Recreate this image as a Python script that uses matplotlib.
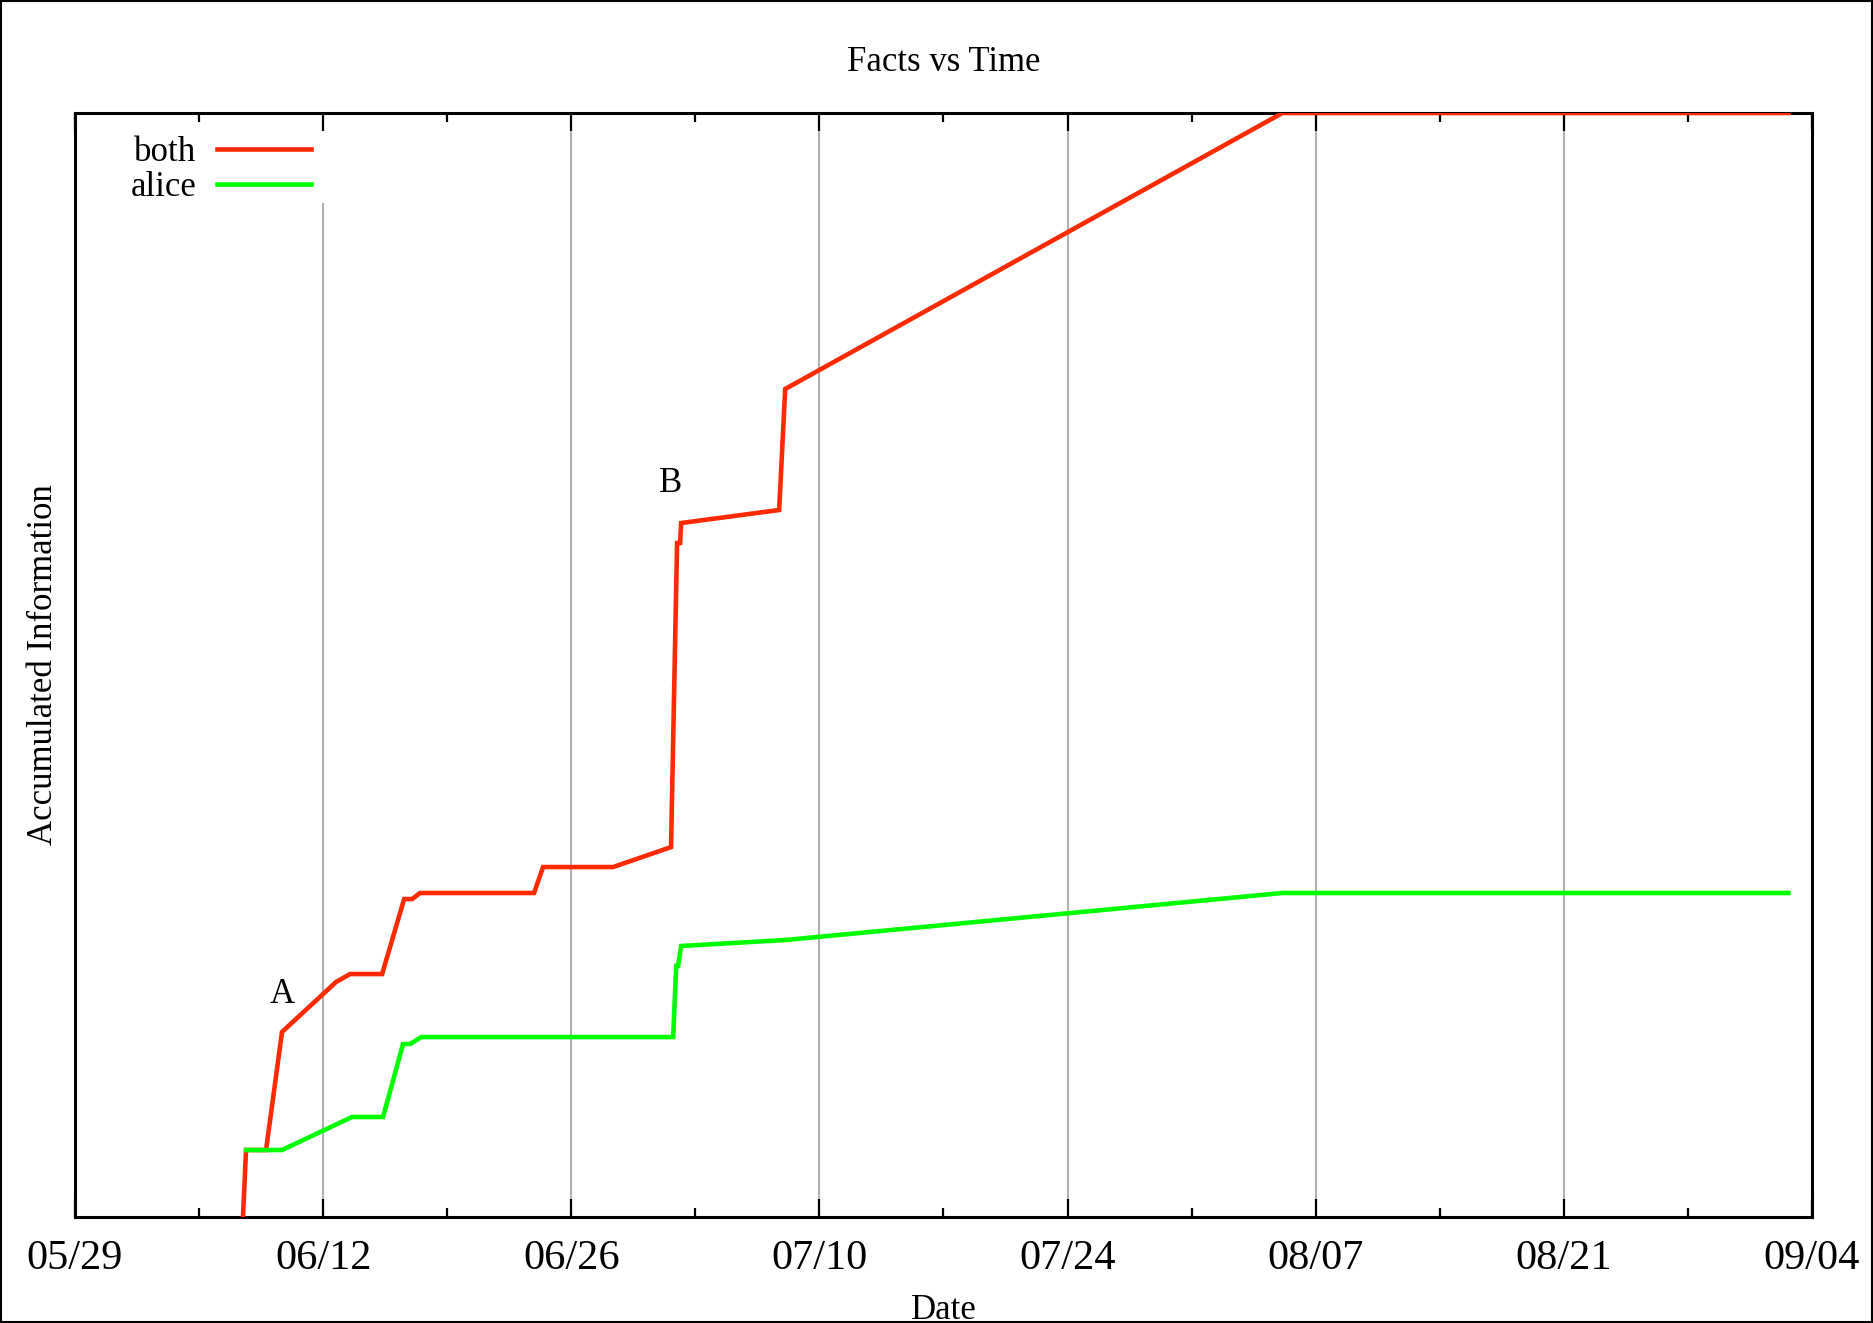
import pandas as pd
import numpy as np
import matplotlib.pyplot as plt
import matplotlib.dates as mdates
from matplotlib.patches import Rectangle

plt.rcParams['font.family'] = ['Liberation Serif', 'DejaVu Serif']

# Data (y in arbitrary units, axis top = 100)
both_time = ['2011-06-07 11:30', '2011-06-07 15:36', '2011-06-08 18:43', '2011-06-09 16:19',
             '2011-06-12 17:31', '2011-06-13 12:29', '2011-06-15 07:55', '2011-06-16 13:41',
             '2011-06-17 00:29', '2011-06-17 11:17', '2011-06-23 21:36', '2011-06-24 09:50',
             '2011-06-28 08:38', '2011-07-01 15:07', '2011-07-01 23:17', '2011-07-02 03:22',
             '2011-07-02 04:48', '2011-07-07 17:31', '2011-07-08 01:41', '2011-08-05 02:53',
             '2011-09-02 16:05']
both_info = [0.0, 6.07, 6.07, 16.76, 21.29, 22.01, 22.01, 28.80, 28.80, 29.35, 29.35,
             31.70, 31.70, 33.51, 61.05, 61.05, 62.86, 64.04, 75.0, 100.0, 100.0]

alice_time = ['2011-06-07 15:36', '2011-06-09 16:19', '2011-06-13 15:07', '2011-06-15 09:07',
              '2011-06-16 12:14', '2011-06-16 21:50', '2011-06-17 12:43', '2011-07-01 18:00',
              '2011-07-01 22:05', '2011-07-02 00:43', '2011-07-02 04:48', '2011-07-08 01:41',
              '2011-08-05 02:53', '2011-09-02 16:05']
alice_info = [6.07, 6.07, 9.06, 9.06, 15.67, 15.67, 16.30, 16.30, 22.74, 22.74, 24.55,
              25.09, 29.35, 29.35]

notes = ['A', 'B']
note_time = ['2011-06-09 16:19', '2011-07-01 15:07']
note_info = [20.2, 66.4]

x_start = pd.Timestamp('2011-05-29')
x_end = pd.Timestamp('2011-09-04')

both_time = pd.to_datetime(both_time)
alice_time = pd.to_datetime(alice_time)
note_time = pd.to_datetime(note_time)
major_days = pd.date_range(x_start, x_end, freq='14D')

fig = plt.figure(figsize=(18.73, 13.23), dpi=100)
ax = fig.add_axes([0.04004, 0.0801, 0.92736, 0.8345])

# vertical grid at inner major ticks
for d in major_days[1:-1]:
    ax.axvline(d, color='#b0b0b0', lw=1.5, zorder=0)

ax.plot(both_time, both_info, color='#ff2a00', lw=3.3, label='both', solid_joinstyle='miter', zorder=3)
ax.plot(alice_time, alice_info, color='#00ff00', lw=3.3, label='alice', solid_joinstyle='miter', zorder=4)

for t, x, y in zip(notes, note_time, note_info):
    ax.text(x, y, t, ha='center', va='center', fontsize=25)

ax.set_xlim(x_start, x_end)
ax.set_ylim(0, 100)
ax.set_xticks(major_days)
ax.set_xticks(pd.date_range(x_start, x_end, freq='7D'), minor=True)
ax.xaxis.set_major_formatter(mdates.DateFormatter('%m/%d'))
ax.tick_params(axis='x', which='major', direction='in', length=13, width=1.6,
               top=True, labelsize=30.5, pad=16)
ax.tick_params(axis='x', which='minor', direction='in', length=6.5, width=1.6, top=True)
ax.tick_params(axis='y', left=False, labelleft=False)
for s in ax.spines.values():
    s.set_linewidth(2.2)

ax.set_title('Facts vs Time', fontsize=25, pad=30)
ax.set_xlabel('Date', fontsize=25, labelpad=11.5)
ax.set_ylabel('Accumulated Information', fontsize=25, labelpad=10.5)

# white key box (hides the grid but not the ticks)
ax.add_patch(Rectangle((0, 0.9185), 0.148, 0.0815, transform=ax.transAxes,
                       facecolor='white', edgecolor='none', zorder=1))

leg = ax.legend(loc='upper left', bbox_to_anchor=(0.021, 0.9964), fontsize=25, markerfirst=False,
                handlelength=2.7, handletextpad=0.6, labelspacing=0.07, borderpad=0.5,
                borderaxespad=0.05, frameon=False)
leg.set_zorder(5)

fig.patches.append(Rectangle((0.0005, 0.0008), 0.999, 0.9984, transform=fig.transFigure,
                             fill=False, edgecolor='black', lw=1.5))

plt.savefig('out.png', dpi=100)
